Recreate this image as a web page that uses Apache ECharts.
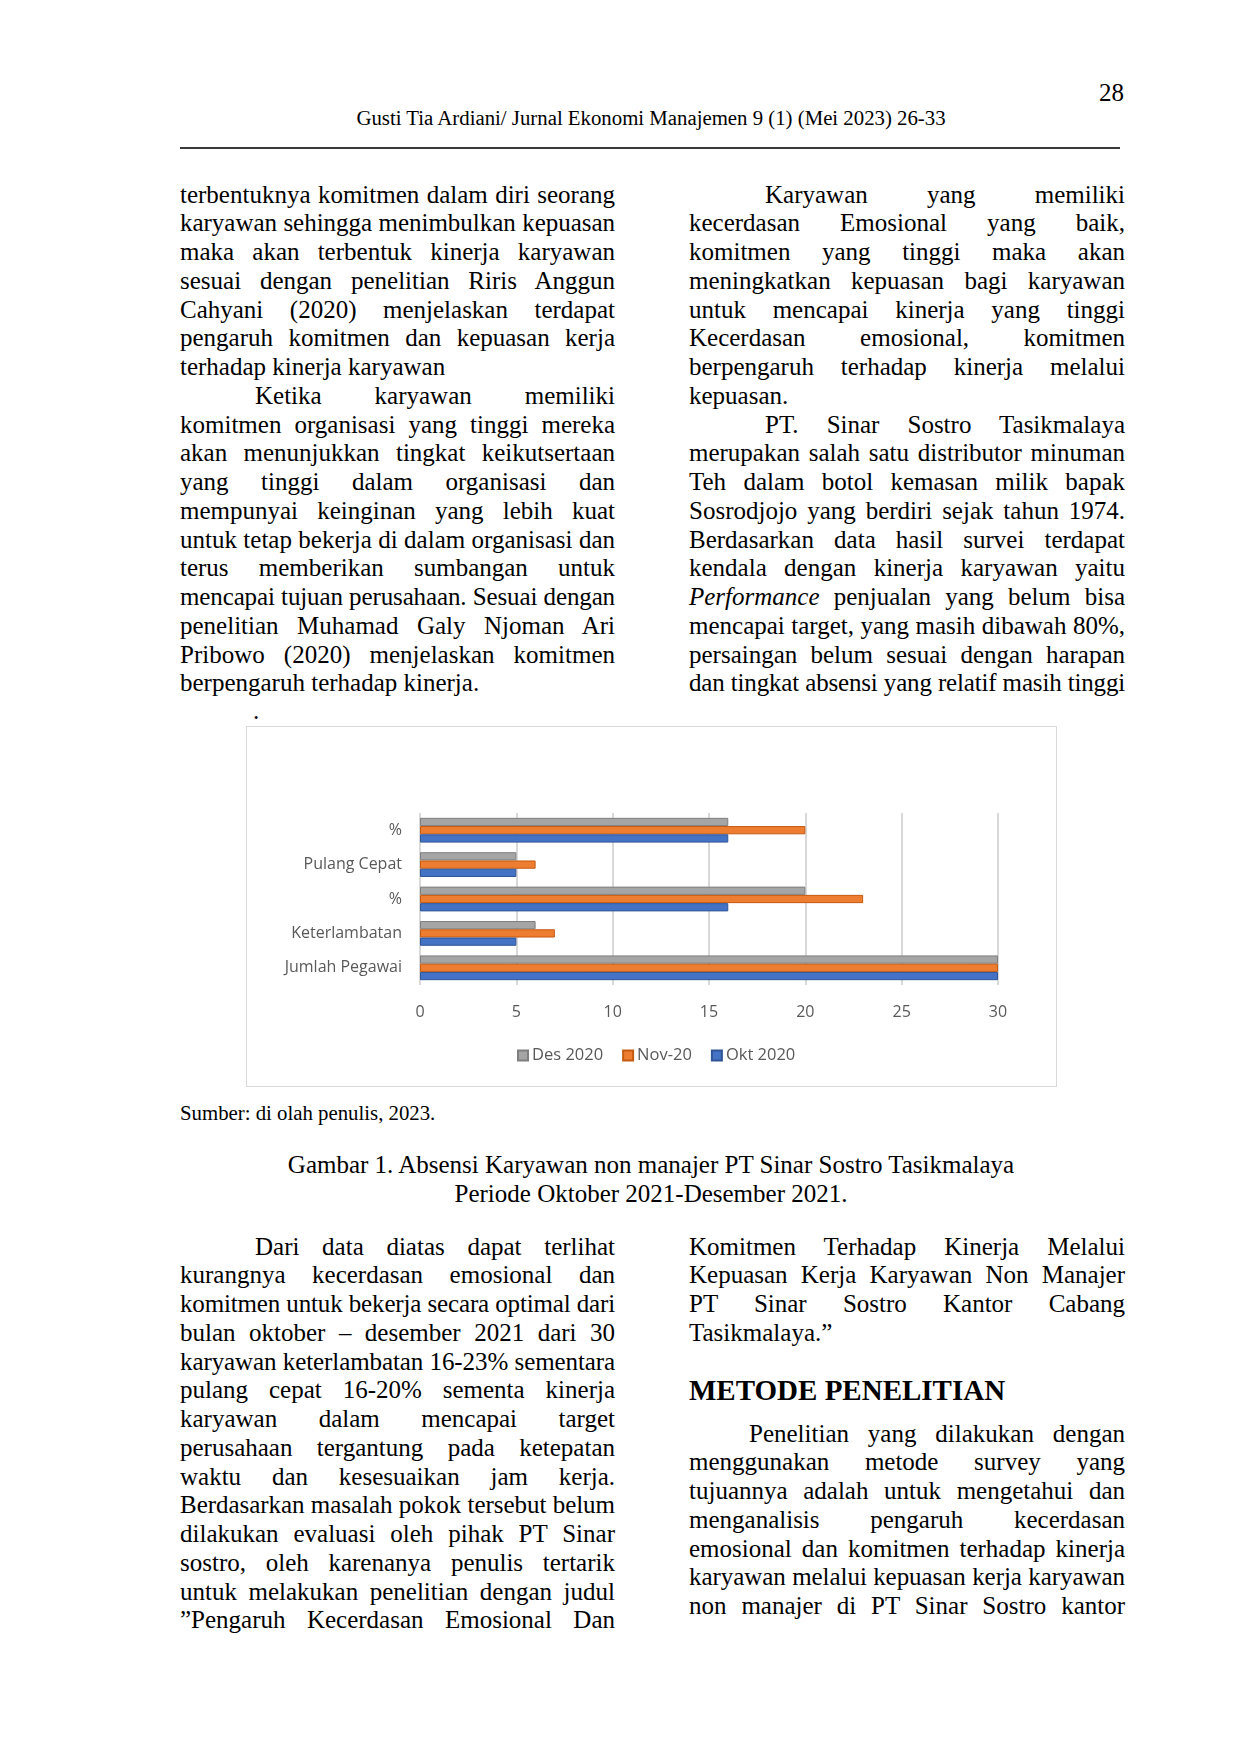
<!DOCTYPE html>
<html><head><meta charset="utf-8">
<script src="https://cdn.jsdelivr.net/npm/echarts@6/dist/echarts.min.js"></script>
<style>
html,body{margin:0;padding:0;background:#fff;}
body{width:1240px;height:1754px;position:relative;font-family:"Liberation Serif","Times New Roman",serif;color:#000;overflow:hidden;}
.ln{position:absolute;height:29px;line-height:29px;font-size:25px;white-space:nowrap;}
#chart{position:absolute;left:246px;top:726px;width:811px;height:361px;box-sizing:border-box;border:1.5px solid #D9D9D9;}
</style></head>
<body>
<div id="page"></div>
<div id="chart"></div>
<script>
// ---------- chart data ----------
const categories = ['Jumlah Pegawai', 'Keterlambatan', '%', 'Pulang Cepat', '%'];
const seriesNames = ['Des 2020', 'Nov-20', 'Okt 2020'];
const des2020 = [30, 6, 20, 5, 16];
const nov20 = [30, 7, 23, 6, 20];
const okt2020 = [30, 5, 16, 5, 16];
const xTicks = { min: 0, max: 30, interval: 5 };

// ---------- page text ----------
const leftTop = [
 ['terbentuknya komitmen dalam diri seorang','j',0],
 ['karyawan sehingga menimbulkan kepuasan','j',0],
 ['maka akan terbentuk kinerja karyawan','j',0],
 ['sesuai dengan penelitian Riris Anggun','j',0],
 ['Cahyani (2020) menjelaskan terdapat','j',0],
 ['pengaruh komitmen dan kepuasan kerja','j',0],
 ['terhadap kinerja karyawan','l',0],
 ['Ketika karyawan memiliki','j',75],
 ['komitmen organisasi yang tinggi mereka','j',0],
 ['akan menunjukkan tingkat keikutsertaan','j',0],
 ['yang tinggi dalam organisasi dan','j',0],
 ['mempunyai keinginan yang lebih kuat','j',0],
 ['untuk tetap bekerja di dalam organisasi dan','j',0],
 ['terus memberikan sumbangan untuk','j',0],
 ['mencapai tujuan perusahaan. Sesuai dengan','j',0],
 ['penelitian Muhamad Galy Njoman Ari','j',0],
 ['Pribowo (2020) menjelaskan komitmen','j',0],
 ['berpengaruh terhadap kinerja.','l',0]
];
const rightTop = [
 ['Karyawan yang memiliki','j',76],
 ['kecerdasan Emosional yang baik,','j',0],
 ['komitmen yang tinggi maka akan','j',0],
 ['meningkatkan kepuasan bagi karyawan','j',0],
 ['untuk mencapai kinerja yang tinggi','j',0],
 ['Kecerdasan emosional, komitmen','j',0],
 ['berpengaruh terhadap kinerja melalui','j',0],
 ['kepuasan.','l',0],
 ['PT. Sinar Sostro Tasikmalaya','j',76],
 ['merupakan salah satu distributor minuman','j',0],
 ['Teh dalam botol kemasan milik bapak','j',0],
 ['Sosrodjojo yang berdiri sejak tahun 1974.','j',0],
 ['Berdasarkan data hasil survei terdapat','j',0],
 ['kendala dengan kinerja karyawan yaitu','j',0],
 ['<i>Performance</i> penjualan yang belum bisa','j',0],
 ['mencapai target, yang masih dibawah 80%,','j',0],
 ['persaingan belum sesuai dengan harapan','j',0],
 ['dan tingkat absensi yang relatif masih tinggi','j',0]
];
const leftBottom = [
 ['Dari data diatas dapat terlihat','j',75],
 ['kurangnya kecerdasan emosional dan','j',0],
 ['komitmen untuk bekerja secara optimal dari','j',0],
 ['bulan oktober – desember 2021 dari 30','j',0],
 ['karyawan keterlambatan 16-23% sementara','j',0],
 ['pulang cepat 16-20% sementa kinerja','j',0],
 ['karyawan dalam mencapai target','j',0],
 ['perusahaan tergantung pada ketepatan','j',0],
 ['waktu dan kesesuaikan jam kerja.','j',0],
 ['Berdasarkan masalah pokok tersebut belum','j',0],
 ['dilakukan evaluasi oleh pihak PT Sinar','j',0],
 ['sostro, oleh karenanya penulis tertarik','j',0],
 ['untuk melakukan penelitian dengan judul','j',0],
 ['”Pengaruh Kecerdasan Emosional Dan','j',0]
];
const rightBottomA = [
 ['Komitmen Terhadap Kinerja Melalui','j',0],
 ['Kepuasan Kerja Karyawan Non Manajer','j',0],
 ['PT Sinar Sostro Kantor Cabang','j',0],
 ['Tasikmalaya.”','l',0]
];
const rightBottomB = [
 ['Penelitian yang dilakukan dengan','j',60],
 ['menggunakan metode survey yang','j',0],
 ['tujuannya adalah untuk mengetahui dan','j',0],
 ['menganalisis pengaruh kecerdasan','j',0],
 ['emosional dan komitmen terhadap kinerja','j',0],
 ['karyawan melalui kepuasan kerja karyawan','j',0],
 ['non manajer di PT Sinar Sostro kantor','j',0]
];

const page = document.getElementById('page');
const PITCH = 28.75;
function put(html, style) {
  const d = document.createElement('div');
  d.innerHTML = html;
  d.style.cssText = 'position:absolute;' + style;
  page.appendChild(d);
  return d;
}
function fitLine(d, w, justify) {
  const span = d.firstChild;
  let nat = span.getBoundingClientRect().width;
  const text = span.textContent;
  const gaps = (text.match(/ /g) || []).length;
  if (nat > w) {
    const ls = -(nat - w + 0.5) / Math.max(1, text.length - 1);
    span.style.letterSpacing = ls.toFixed(3) + 'px';
    nat = span.getBoundingClientRect().width;
  }
  if (justify && gaps > 0) {
    const ws = (w - nat) / gaps;
    span.style.wordSpacing = ws.toFixed(3) + 'px';
  }
}
function column(lines, x, w, yCenter) {
  lines.forEach((l, i) => {
    const d = document.createElement('div');
    d.className = 'ln';
    d.innerHTML = '<span>' + l[0] + '</span>';
    d.style.left = (x + l[2]) + 'px';
    d.style.width = (w - l[2]) + 'px';
    d.style.top = (yCenter + i * PITCH - 14.5) + 'px';
    page.appendChild(d);
    fitLine(d, w - l[2], l[1] === 'j');
  });
}
put('28', 'right:116px;top:78px;font-size:25px;line-height:29px;');
put('Gusti Tia Ardiani/ Jurnal Ekonomi Manajemen 9 (1) (Mei 2023) 26-33', 'left:0;width:1302px;text-align:center;top:105px;font-size:20.8px;line-height:26px;white-space:nowrap;');
put('', 'left:180px;width:940px;top:147px;height:2px;background:#3a3a3a;');
column(leftTop, 180, 435, 194);
column(rightTop, 689, 436, 194);
put('.', 'left:253px;top:696px;font-size:25px;line-height:29px;');
put('Sumber: di olah penulis, 2023.', 'left:180px;top:1100px;font-size:20.8px;line-height:26px;white-space:nowrap;');
put('Gambar 1. Absensi Karyawan non manajer PT Sinar Sostro Tasikmalaya<br>Periode Oktober 2021-Desember 2021.', 'left:0;width:1302px;text-align:center;top:1150px;font-size:25px;line-height:29px;white-space:nowrap;');
column(leftBottom, 180, 435, 1246);
column(rightBottomA, 689, 436, 1246);
put('METODE PENELITIAN', 'left:689px;top:1373.5px;font-size:29px;line-height:33px;font-weight:bold;white-space:nowrap;');
column(rightBottomB, 689, 436, 1433);

// ---------- chart ----------
const chart = echarts.init(document.getElementById('chart'), null, { renderer: 'canvas' });
const font = '"Open Sans", "Noto Sans", sans-serif';
function barSeries(name, data, color, border) {
  return {
    name: name, type: 'bar', data: data,
    barGap: '0%', barCategoryGap: '28%',
    itemStyle: { color: color, borderColor: border, borderWidth: 1 }
  };
}
chart.setOption({
  animation: false,
  textStyle: { fontFamily: font },
  grid: { left: 173, right: 58, top: 86, bottom: 101, containLabel: false },
  legend: {
    data: seriesNames, bottom: 17, left: 265, icon: 'rect',
    itemWidth: 10, itemHeight: 10, itemGap: 19,
    textStyle: { color: '#595959', fontSize: 16.5, fontFamily: font, padding: [0, 0, 0, -1] }
  },
  xAxis: {
    type: 'value', min: xTicks.min, max: xTicks.max, interval: xTicks.interval,
    axisLine: { show: false }, axisTick: { show: false },
    axisLabel: { color: '#595959', fontSize: 16, margin: 19, fontFamily: font },
    splitLine: { show: true, lineStyle: { color: '#D9D9D9', width: 2 } }
  },
  yAxis: {
    type: 'category', data: categories,
    axisLine: { show: false }, axisTick: { show: false },
    axisLabel: { color: '#595959', fontSize: 16, margin: 18, fontFamily: font },
    splitLine: { show: false }
  },
  series: [
    barSeries(seriesNames[0], des2020, '#A5A5A5', '#7F7F7F'),
    barSeries(seriesNames[1], nov20, '#ED7D31', '#C55A11'),
    barSeries(seriesNames[2], okt2020, '#4472C4', '#2F5597')
  ]
});
</script>
</body></html>
